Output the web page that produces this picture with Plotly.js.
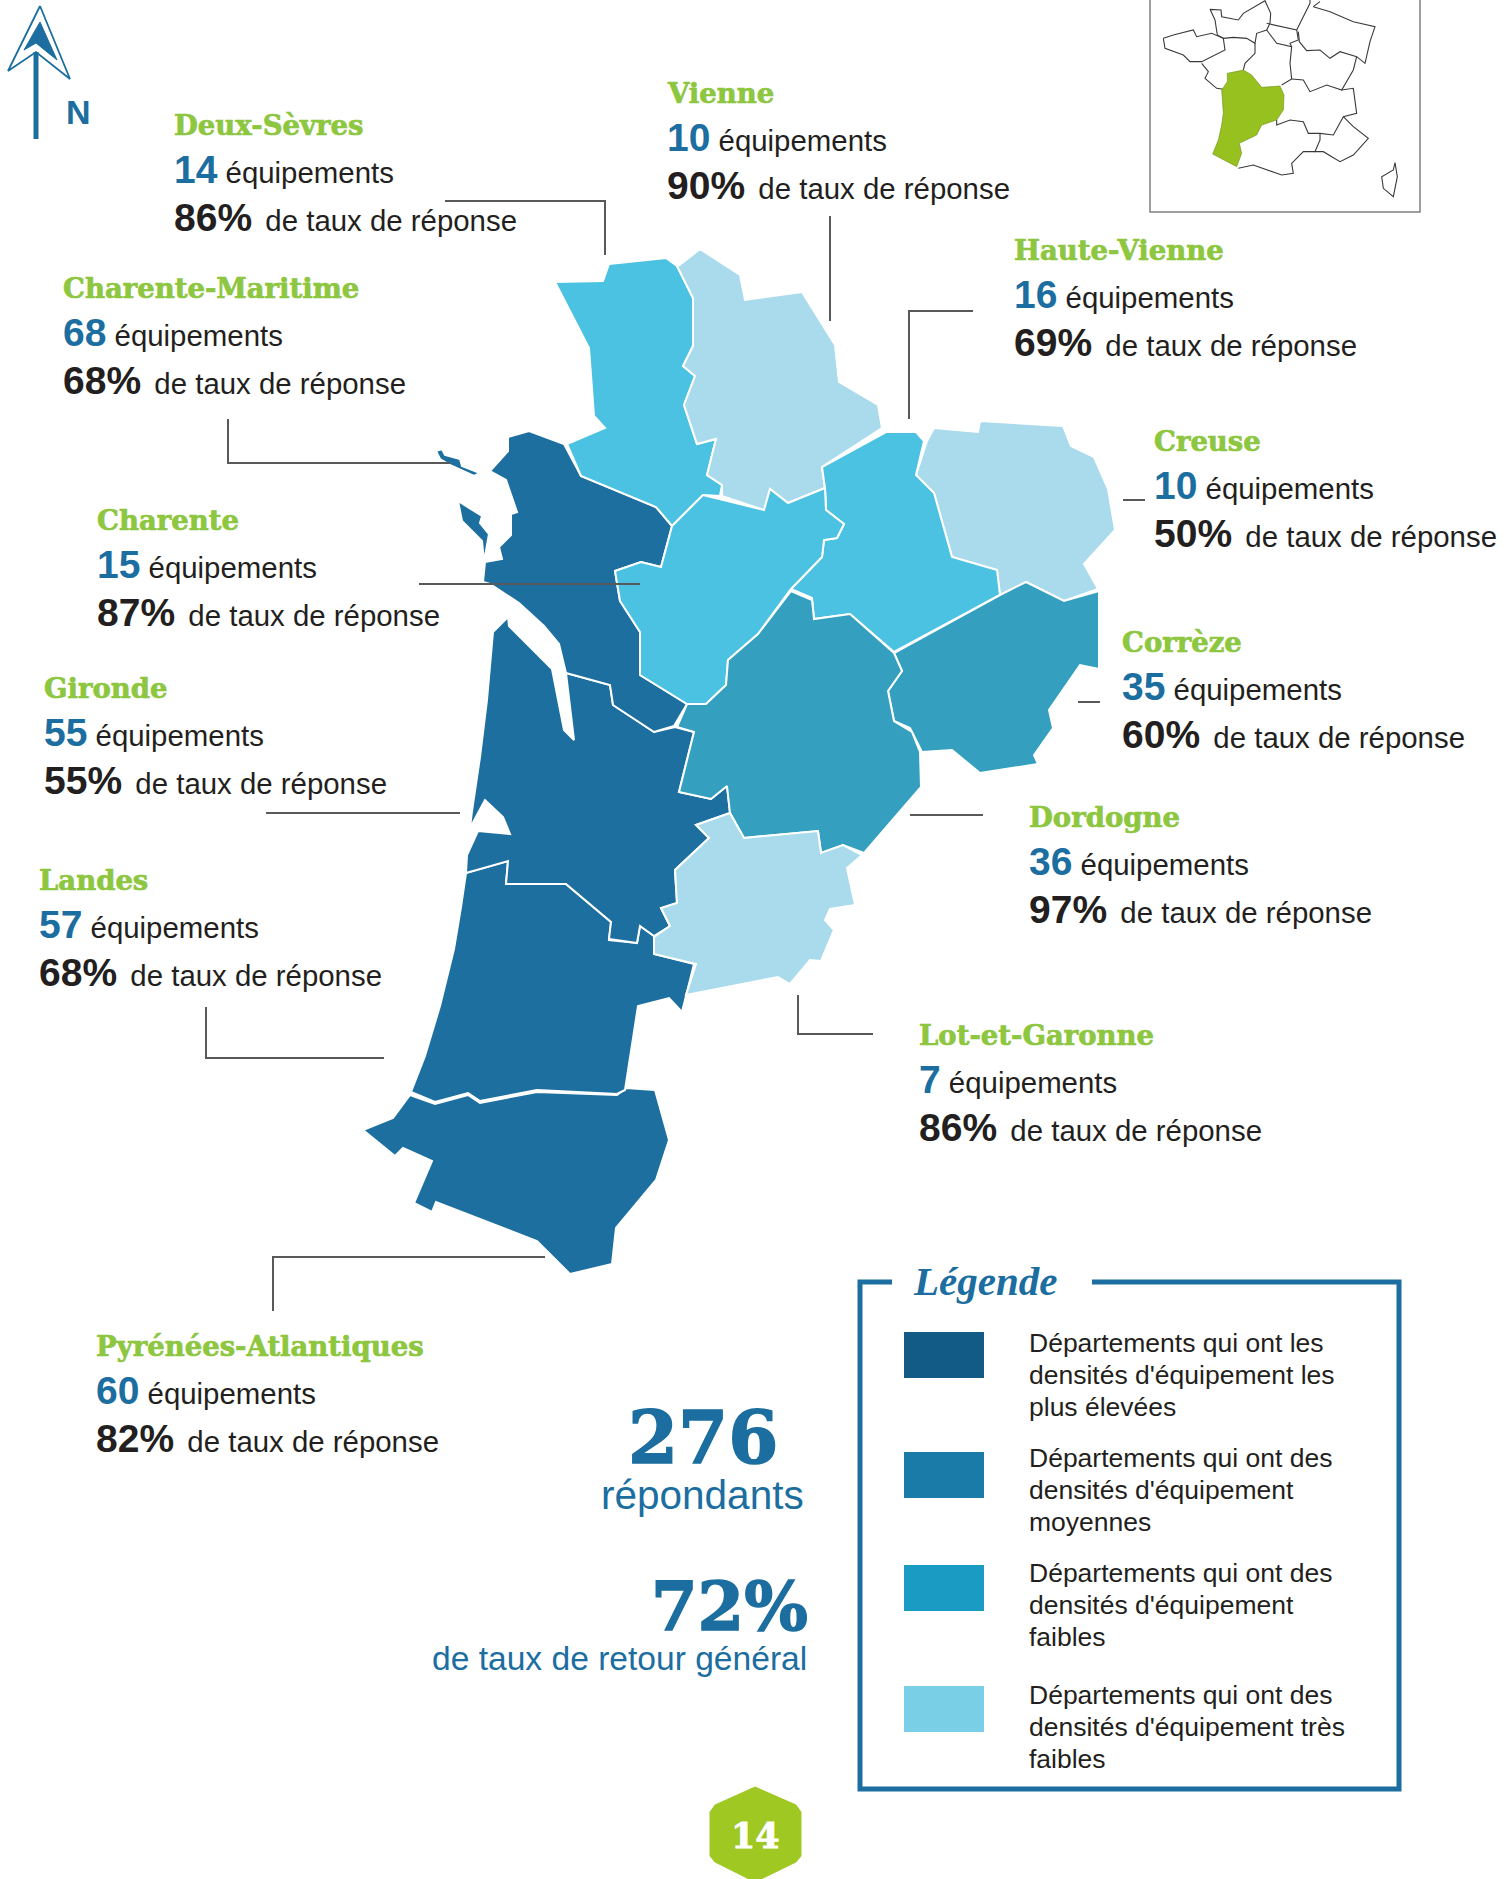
<!DOCTYPE html>
<html><head><meta charset="utf-8">
<script src="https://cdn.plot.ly/plotly-3.0.1.min.js"></script>
<style>html,body{margin:0;padding:0;background:#fff}#g{width:1510px;height:1879px}</style>
</head><body><div id="g"></div>
<script>
// Data
const departements = ["Deux-Sèvres","Vienne","Haute-Vienne","Charente-Maritime","Creuse","Charente","Corrèze","Gironde","Dordogne","Landes","Lot-et-Garonne","Pyrénées-Atlantiques"];
const equipements  = [14,10,16,68,10,15,35,55,36,57,7,60];
const tauxReponse  = [86,90,69,68,50,87,60,55,97,68,86,82];
const labelX = [174,667,1014,63,1154,97,1122,44,1029,39,919,96];
const labelY = [135,103,260,298,451,530,652,698,827,890,1045,1356];
const legendeLignes = [
  ["Départements qui ont les","densités d'équipement les","plus élevées"],
  ["Départements qui ont des","densités d'équipement","moyennes"],
  ["Départements qui ont des","densités d'équipement","faibles"],
  ["Départements qui ont des","densités d'équipement très","faibles"]];
const legendeCouleurs = ["#135b87","#1a7ba8","#1a9bc4","#78cfe6"];
const legendeHaut = [1332,1452,1565,1686];
const legendeBase = [1352,1467,1582,1704];

// Department outlines
const deuxSevres = [[555,282],[603,281],[609,264],[666,258],[677,266],[693,298],[693,346],[683,366],[695,376],[684,405],[697,444],[716,439],[707,475],[722,485],[720,496],[703,495],[672,526],[656,507],[581,476],[567,444],[605,428],[594,416],[589,348]];
const vienne = [[681,264],[700,249],[740,275],[745,300],[802,292],[835,345],[839,382],[878,405],[882,428],[822,467],[825,488],[788,503],[770,489],[764,510],[722,496],[722,485],[707,475],[716,439],[697,444],[684,405],[695,376],[683,366],[693,346],[693,298],[677,266]];
const hauteVienne = [[886,432],[916,432],[924,441],[916,475],[934,493],[952,557],[997,570],[1000,595],[894,652],[850,614],[814,619],[812,598],[791,589],[822,557],[824,540],[837,538],[844,524],[826,510],[825,488],[822,467]];
const creuse = [[927,441],[934,428],[978,432],[980,421],[1063,426],[1071,446],[1094,457],[1108,489],[1115,530],[1084,564],[1098,589],[1064,601],[1026,582],[1000,595],[997,570],[952,557],[934,493],[916,475]];
const correze = [[1026,582],[1064,601],[1099,591],[1099,669],[1080,665],[1049,710],[1053,728],[1034,755],[1038,764],[980,773],[952,750],[922,752],[910,728],[894,721],[888,691],[902,671],[894,653],[1000,595]];
const charente = [[703,495],[764,510],[770,489],[788,503],[825,488],[826,510],[844,524],[837,538],[824,540],[822,557],[791,589],[758,634],[728,660],[726,685],[706,704],[687,704],[640,675],[640,632],[620,601],[615,571],[641,562],[661,567],[672,526]];
const charenteMaritime = [[508,437],[529,431],[564,444],[581,476],[656,507],[672,526],[661,567],[641,562],[615,571],[620,601],[640,632],[640,675],[687,704],[674,726],[654,732],[613,705],[610,685],[566,673],[559,644],[544,626],[519,603],[490,584],[483,582],[485,562],[502,559],[499,547],[511,535],[511,514],[517,512],[506,480],[490,471],[508,451]];
const ileRe = [[436,451],[442,449],[445,455],[460,459],[462,466],[480,473],[474,476],[452,466],[440,459]];
const ileOleron = [[458,501],[482,516],[480,523],[489,534],[484,562],[482,541],[462,521]];
const gironde = [[508,617],[509,626],[552,669],[564,730],[574,740],[566,673],[610,685],[613,705],[654,732],[675,727],[694,732],[679,792],[711,799],[727,786],[730,813],[696,825],[709,838],[675,870],[677,903],[661,908],[670,926],[654,936],[640,926],[637,943],[609,939],[611,922],[566,884],[506,884],[508,861],[466,873],[467,855],[474,840],[478,831],[510,834],[503,817],[485,800],[470,828],[472,811],[480,757],[487,700],[493,632]];
const dordogne = [[791,591],[812,600],[814,619],[850,614],[894,653],[902,671],[888,691],[894,721],[912,732],[920,752],[921,787],[864,853],[843,845],[821,853],[818,831],[744,838],[730,813],[727,786],[711,799],[679,792],[694,732],[677,727],[687,704],[706,704],[726,685],[728,660],[758,634]];
const lotEtGaronne = [[730,813],[744,838],[818,831],[821,853],[843,845],[862,855],[847,868],[855,905],[830,909],[825,920],[834,930],[821,961],[810,960],[790,984],[778,977],[686,995],[696,964],[654,954],[654,937],[670,926],[661,908],[677,903],[675,870],[709,838],[696,825]];
const landes = [[466,873],[508,861],[506,884],[566,884],[611,922],[609,940],[637,943],[640,926],[654,936],[654,954],[694,964],[682,1012],[669,998],[638,1006],[625,1090],[617,1094],[537,1090],[480,1101],[468,1093],[435,1102],[411,1092],[425,1056],[440,1006],[454,949],[461,907]];
const pyrenees = [[410,1095],[435,1104],[468,1095],[480,1103],[537,1092],[617,1095],[626,1088],[655,1090],[669,1140],[656,1180],[616,1228],[612,1264],[570,1274],[537,1241],[436,1202],[432,1212],[414,1203],[432,1161],[403,1148],[395,1156],[363,1130],[393,1118]];

// Inset map of France
const aquitaine = [[262,220],[310,210],[335,225],[365,262],[420,258],[432,285],[430,330],[410,360],[365,375],[350,405],[298,430],[305,460],[290,500],[250,480],[218,462],[235,420],[245,375],[250,340],[245,270],[262,245]];
const regionsFrance = [
 [[210,28],[243,30],[245,50],[295,60],[310,40],[375,2],[392,40],[390,70],[380,90],[350,100],[345,130],[320,115],[280,112],[250,115],[232,105],[225,60],[210,28]],
 [[70,115],[100,105],[160,90],[170,110],[215,100],[250,115],[255,150],[185,185],[150,185],[130,165],[75,145],[70,115]],
 [[185,190],[205,215],[195,235],[230,265],[250,268]],
 [[345,130],[345,160],[315,190],[310,210]],
 [[380,90],[410,130],[455,140],[450,190],[455,237],[425,255]],
 [[380,70],[470,90],[475,120],[450,130],[455,140]],
 [[470,90],[490,50],[510,10],[510,0]],
 [[540,5],[520,20],[570,35],[640,65],[705,80],[690,125],[675,190],[650,170],[600,155],[570,175],[540,150],[500,152],[478,125],[475,95]],
 [[650,170],[640,210],[605,270],[560,255],[510,275],[490,240],[455,237]],
 [[605,270],[640,265],[650,340],[610,350],[580,405],[540,400],[505,400],[490,365],[450,360],[410,375],[410,360]],
 [[610,350],[640,380],[685,415],[640,465],[600,485],[550,455],[525,455],[540,420],[540,400]],
 [[525,455],[490,455],[455,490],[460,520],[425,525],[380,510],[340,495],[295,505]],
 [[765,488],[772,530],[760,590],[730,565],[725,530],[760,510],[765,488]]];

// Callout lines
const renvois = [
 [[445,201],[605,201],[605,255]],
 [[830,216],[830,321]],
 [[973,311],[909,311],[909,419]],
 [[228,419],[228,463],[450,463]],
 [[419,584],[640,584]],
 [[1123,500],[1145,500]],
 [[1078,702],[1100,702]],
 [[266,813],[460,813]],
 [[206,1007],[206,1058],[384,1058]],
 [[910,815],[983,815]],
 [[798,995],[798,1034],[873,1034]],
 [[273,1311],[273,1257],[545,1257]]];

// Compass and page badge outlines
const flecheExt = [[40,6],[70,79],[36,52],[8,71]];
const flecheInt = [[40,22],[57,60],[36,43],[24,50]];
const flecheTige = [[36,52],[36,139]];
const badge = [[755,1787],[796,1805],[801,1812],[801,1856],[796,1862],[755,1882],[715,1862],[710,1856],[710,1812],[715,1805]];
const cadreLegende = [[892,1282],[860,1282],[860,1789],[1399,1789],[1399,1282],[1092,1282]];

const BLEU="#1b6e9f", VERT="#8dc63f", NOIR="#231f20", SANS="Liberation Sans, Arial, sans-serif", SERIF="DejaVu Serif, serif";
const FONCE="#1d6fa0", MOYEN="#349fbf", CLAIR="#4cc2e2", PALE="#a9dbec";
const closed = p => p.concat([p[0]]);
const traces = [];
function poly(p, fill, lc, lw, ax){
  const q = closed(p);
  traces.push({type:"scatter",mode:"lines",x:q.map(a=>a[0]),y:q.map(a=>a[1]),fill:"toself",fillcolor:fill,
    line:{color:lc,width:lw},hoverinfo:"skip",showlegend:false,xaxis:ax?"x2":"x",yaxis:ax?"y2":"y"});
}
function path(p, c, w, ax){
  traces.push({type:"scatter",mode:"lines",x:p.map(a=>a[0]),y:p.map(a=>a[1]),
    line:{color:c,width:w},hoverinfo:"skip",showlegend:false,xaxis:ax?"x2":"x",yaxis:ax?"y2":"y"});
}
[[pyrenees,FONCE],[landes,FONCE],[gironde,FONCE],[charenteMaritime,FONCE],[ileRe,FONCE],[ileOleron,FONCE],
 [deuxSevres,CLAIR],[vienne,PALE],[creuse,PALE],[hauteVienne,CLAIR],[charente,CLAIR],
 [correze,MOYEN],[dordogne,MOYEN],[lotEtGaronne,PALE]].forEach(d=>poly(d[0],d[1],"#ffffff",2));
renvois.forEach(r=>path(r,"#58595b",2));
poly(flecheExt,"#ffffff",BLEU,1.8);
poly(flecheInt,BLEU,BLEU,1);
path(flecheTige,BLEU,5);
poly(badge,"#a0c823","#a0c823",1);
path(cadreLegende,BLEU,5);
path([[1150,0],[1150,212],[1420,212],[1420,0]],"#808080",1.5);
regionsFrance.forEach(r=>path(r,"#3a3a3a",1.1,true));
poly(aquitaine,"#97c11f","#6f8f1a",0.6,true);

const ann = [];
function txt(x, base, html, size, color, family, anchor, refSize){
  ann.push({xref:"x",yref:"y",x:x,y:base-0.3465*(refSize||size),text:html,showarrow:false,xanchor:anchor||"left",yanchor:"middle",
    align:anchor||"left",borderpad:0,font:{size:size,color:color||NOIR,family:family||SANS}});
}
const gras = (t,c,w) => '<span style="font-weight:bold;stroke:'+c+';stroke-width:'+w+'px">'+t+'</span>';
departements.forEach((d,i)=>{
  txt(labelX[i]-1,labelY[i],gras(d,VERT,0.7),27.5,VERT,SERIF);
  txt(labelX[i]-1,labelY[i]+48,'<span style="font-size:39px;font-weight:bold;fill:'+BLEU+'">'+equipements[i]+'</span> équipements',29.4,NOIR,SANS,"left",39);
  txt(labelX[i]-1,labelY[i]+96,'<span style="font-size:39px;font-weight:bold">'+tauxReponse[i]+'%\u00a0</span>\u200ade taux de réponse',29.4,NOIR,SANS,"left",39);
});
const shapes = [];
legendeLignes.forEach((l,i)=>{
  shapes.push({type:"rect",xref:"x",yref:"y",x0:904,x1:984,y0:legendeHaut[i],y1:legendeHaut[i]+46,fillcolor:legendeCouleurs[i],line:{width:0}});
  l.forEach((t,j)=>txt(1027.5,legendeBase[i]+j*32,t,26.5,NOIR));
});
txt(912,1295,"<b><i>Légende</i></b>",41,BLEU,"Liberation Serif, serif");
txt(703,1462,gras("276",BLEU,1.5),72,BLEU,SERIF,"center");
txt(702,1509,"répondants",40.5,BLEU,SANS,"center");
txt(809,1630,gras("72%",BLEU,1.5),67,BLEU,SERIF,"right");
txt(808,1670,"de taux de retour général",33.6,BLEU,SANS,"right");
txt(755,1848,gras("14",'#ffffff',0.8),35,"#ffffff",SERIF,"center");
txt(78,124,"<b>N</b>",34,BLEU,SANS,"center");

const hidden = {visible:false,fixedrange:true,showgrid:false,zeroline:false};
Plotly.newPlot("g",traces,{
  width:1510,height:1879,margin:{l:0,r:0,t:0,b:0},paper_bgcolor:"#fff",plot_bgcolor:"rgba(0,0,0,0)",showlegend:false,
  xaxis:Object.assign({range:[0,1510],domain:[0,1]},hidden),
  yaxis:Object.assign({range:[1879,0],domain:[0,1]},hidden),
  xaxis2:Object.assign({range:[0,900],domain:[1140/1510,1440/1510],anchor:"y2"},hidden),
  yaxis2:Object.assign({range:[660,0],domain:[1-220/1879,1],anchor:"x2"},hidden),
  shapes:shapes,annotations:ann
},{staticPlot:true,displayModeBar:false});
</script></body></html>
